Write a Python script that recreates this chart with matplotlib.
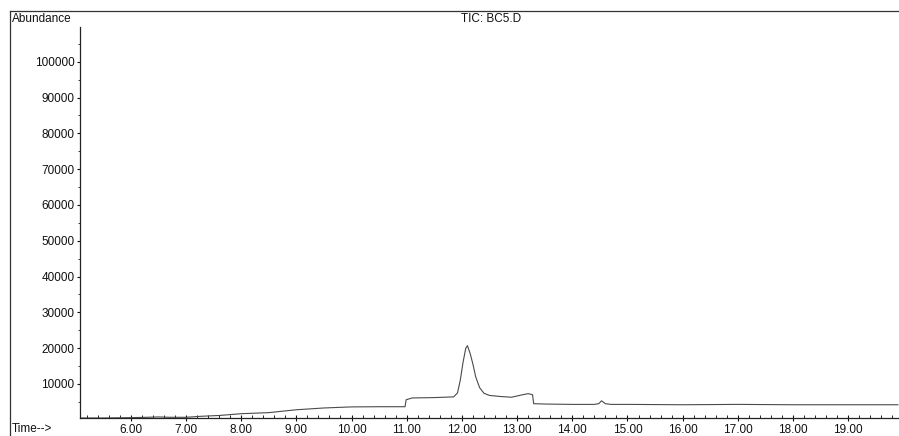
import matplotlib
matplotlib.use("Agg")
import matplotlib.pyplot as plt
from matplotlib.lines import Line2D
from matplotlib.ticker import MultipleLocator, FixedLocator

# Total ion chromatogram trace (retention time in minutes, abundance)
time_min = [5.08, 5.5, 6.0, 6.3, 6.5, 6.7, 7.0, 7.3, 7.6, 8.0, 8.5, 9.0, 9.5,
            10.0, 10.5, 10.97, 10.99, 11.1, 11.5, 11.85, 11.92, 11.97, 12.02,
            12.07, 12.10, 12.15, 12.20, 12.25, 12.32, 12.40, 12.50, 12.70,
            12.90, 13.10, 13.20, 13.28, 13.30, 13.50, 14.00, 14.40, 14.48,
            14.53, 14.60, 14.70, 15.00, 16.00, 17.00, 18.00, 19.00, 19.90]
abundance = [500, 500, 600, 700, 800, 700, 700, 1000, 1200, 1700, 2000, 2800,
             3300, 3600, 3650, 3650, 5600, 6100, 6200, 6400, 7500, 11000, 16000,
             20000, 20700, 18500, 15500, 12000, 9000, 7400, 6800, 6500, 6300,
             7000, 7300, 7000, 4500, 4400, 4300, 4300, 4500, 5300, 4500, 4300,
             4300, 4200, 4300, 4200, 4200, 4200]

y_ticks = [10000, 20000, 30000, 40000, 50000, 60000, 70000, 80000, 90000, 100000]
x_ticks = [6.0, 7.0, 8.0, 9.0, 10.0, 11.0, 12.0, 13.0, 14.0, 15.0, 16.0, 17.0, 18.0, 19.0]

title_text = "TIC: BC5.D"
y_title = "Abundance"
x_title = "Time-->"

plt.rcParams["font.family"] = ["Liberation Sans", "DejaVu Sans"]

W, H = 899, 436
fig = plt.figure(figsize=(W / 100, H / 100), dpi=100)
fig.patch.set_facecolor("white")

ax_left, ax_right, ax_bottom, ax_top = 80, 899, 418, 27
ax = fig.add_axes([ax_left / W, (H - ax_bottom) / H,
                   (ax_right - ax_left) / W, (ax_bottom - ax_top) / H])

ax.plot(time_min, abundance, color="#4a4a4a", lw=0.8)

ax.set_xlim(5.08, 19.92)
ax.set_ylim(500, 109700)

for side in ("top", "right"):
    ax.spines[side].set_visible(False)
for side in ("left", "bottom"):
    ax.spines[side].set_linewidth(0.9)
    ax.spines[side].set_color("#222222")

ax.xaxis.set_major_locator(FixedLocator(x_ticks))
ax.xaxis.set_minor_locator(MultipleLocator(0.2))
ax.set_xticklabels([f"{t:.2f}" for t in x_ticks])
ax.yaxis.set_major_locator(FixedLocator(y_ticks))
ax.yaxis.set_minor_locator(MultipleLocator(5000))
ax.set_yticklabels([str(v) for v in y_ticks])

ax.tick_params(axis="x", which="major", direction="inout", length=5, width=0.8,
               pad=2, labelsize=8.5, colors="#111111")
ax.tick_params(axis="x", which="minor", direction="in", length=2.5, width=0.7,
               colors="#222222")
ax.tick_params(axis="y", which="major", direction="out", length=2.5, width=0.8,
               pad=1.5, labelsize=8.5, colors="#111111")
ax.tick_params(axis="y", which="minor", direction="out", length=1.5, width=0.6,
               colors="#222222")

# Outer frame of the printout
fig.add_artist(Line2D([10 / W, 1.0], [(H - 11) / H] * 2, color="#333333",
                      lw=0.9, transform=fig.transFigure))
fig.add_artist(Line2D([10 / W] * 2, [0, (H - 11) / H], color="#333333",
                      lw=0.9, transform=fig.transFigure))

fig.text(12 / W, (H - 19) / H, y_title, fontsize=8.5, ha="left", va="center",
         color="#111111")
fig.text(491 / W, (H - 19) / H, title_text, fontsize=8.5, ha="center",
         va="center", color="#111111")
fig.text(12 / W, (H - 429) / H, x_title, fontsize=8.5, ha="left", va="center",
         color="#111111")

fig.savefig("out.png", dpi=100, facecolor="white")
